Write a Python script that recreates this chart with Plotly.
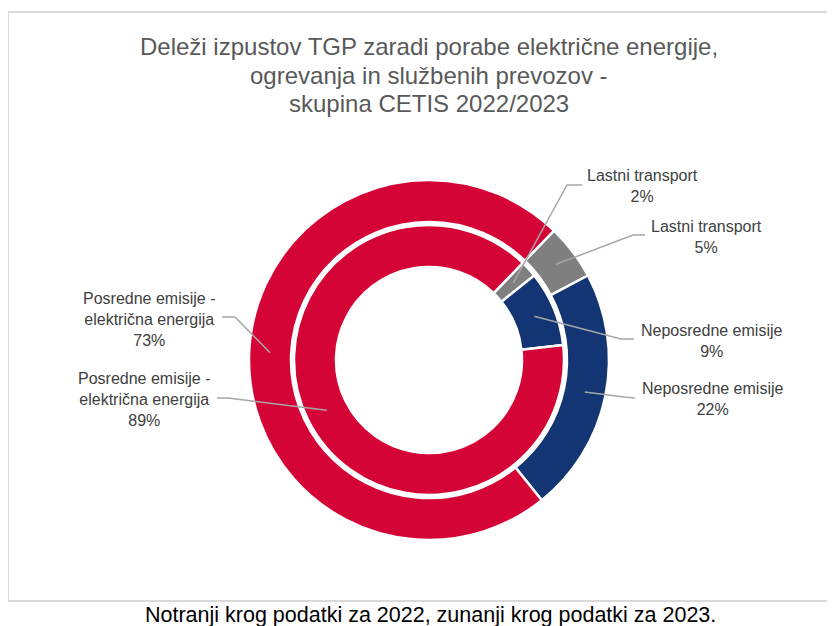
import math
import plotly.graph_objects as go

# Data
categories = ['Lastni transport', 'Neposredne emisije', 'Posredne emisije - električna energija']
label_lines = [['Lastni transport'], ['Neposredne emisije'], ['Posredne emisije -', 'električna energija']]
share_2022 = [2, 9, 89]   # inner ring
share_2023 = [5, 22, 73]  # outer ring
colors = ['#7F7F7F', '#133573', '#D40536']

# page body has an 8px margin, so the figure is a bit smaller than the window
OFF = 8
FW, FH = 835 - OFF, 626 - OFF
CX, CY = 429, 360          # donut centre (window pixels)
R_OUT, R_OUT_HOLE = 180, 138
R_IN, R_IN_HOLE = 135, 93
ROTATION = 44
FONT = 'Liberation Sans, Arial, sans-serif'


def px(x):
    return (x - OFF) / FW


def py(y):
    return 1 - (y - OFF) / FH


def domain(r):
    return dict(x=[px(CX - r), px(CX + r)], y=[py(CY + r), py(CY - r)])


def slice_mid(values, i, r):
    """window pixel point in the middle of slice i at radius r"""
    total = sum(values)
    ang = ROTATION + (sum(values[:i]) + values[i] / 2) / total * 360
    a = math.radians(ang)
    return CX + r * math.sin(a), CY - r * math.cos(a)


fig = go.Figure()

fig.add_trace(go.Pie(
    labels=categories, values=share_2023, name='2023',
    domain=domain(R_OUT), hole=R_OUT_HOLE / R_OUT,
    sort=False, direction='clockwise', rotation=ROTATION,
    marker=dict(colors=colors, line=dict(color='white', width=2.5)),
    textinfo='none', showlegend=False,
    hovertemplate='%{label}<br>2023: %{value}%<extra></extra>'
))

fig.add_trace(go.Pie(
    labels=categories, values=share_2022, name='2022',
    domain=domain(R_IN), hole=R_IN_HOLE / R_IN,
    sort=False, direction='clockwise', rotation=ROTATION,
    marker=dict(colors=colors, line=dict(color='white', width=2.5)),
    textinfo='none', showlegend=False,
    hovertemplate='%{label}<br>2022: %{value}%<extra></extra>'
))

# label placement: (values, index, ring radius, label centre, leader start, elbow)
mid_in = (R_IN + R_IN_HOLE) / 2
mid_out = (R_OUT + R_OUT_HOLE) / 2
label_specs = [
    (share_2022, 0, mid_in, (642, 186), (582, 185), (567, 185)),
    (share_2023, 0, mid_out, (706, 237), (645, 235), (633, 235)),
    (share_2022, 1, mid_in, (712, 341), (634, 339), (621, 339)),
    (share_2023, 1, mid_out, (713, 399), (635, 398), (624, 397)),
    (share_2023, 2, mid_out, (149, 319), (222, 317), (235, 317)),
    (share_2022, 2, mid_in, (144, 399), (217, 398), (228, 398)),
]

shapes = []
annotations = []
for values, i, r, (lx, ly), start, elbow in label_specs:
    ex, ey = slice_mid(values, i, r)
    path = 'M {} {} L {} {} L {} {}'.format(px(start[0]), py(start[1]),
                                           px(elbow[0]), py(elbow[1]),
                                           px(ex), py(ey))
    shapes.append(dict(type='path', xref='paper', yref='paper', path=path,
                       line=dict(color='#A6A6A6', width=1.5)))
    text = '<br>'.join(label_lines[i] + ['{}%'.format(values[i])])
    annotations.append(dict(
        text=text, x=px(lx), y=py(ly), xref='paper', yref='paper',
        xanchor='center', yanchor='middle', showarrow=False, align='center',
        font=dict(family=FONT, size=16, color='#404040')
    ))

# chart border (right edge runs off the picture)
shapes.append(dict(type='rect', xref='paper', yref='paper',
                   x0=px(8), x1=px(845), y0=py(601), y1=py(12),
                   line=dict(color='#D9D9D9', width=2), layer='below'))

# title, one annotation per line
title_lines = ['Deleži izpustov TGP zaradi porabe električne energije,',
               'ogrevanja in službenih prevozov -',
               'skupina CETIS 2022/2023']
for k, line in enumerate(title_lines):
    annotations.append(dict(
        text=line, x=px(429), y=py(47 + 28 * k), xref='paper', yref='paper',
        xanchor='center', yanchor='middle', showarrow=False,
        font=dict(family=FONT, size=24, color='#595959')
    ))

# caption below the chart
annotations.append(dict(
    text='Notranji krog podatki za 2022, zunanji krog podatki za 2023.',
    x=px(430), y=py(615), xref='paper', yref='paper',
    xanchor='center', yanchor='middle', showarrow=False,
    font=dict(family=FONT, size=21.5, color='#000000')
))

fig.update_layout(
    width=FW, height=FH,
    margin=dict(l=0, r=0, t=0, b=0),
    paper_bgcolor='white',
    plot_bgcolor='white',
    shapes=shapes,
    annotations=annotations,
    showlegend=False
)

fig.write_html('out.html')
